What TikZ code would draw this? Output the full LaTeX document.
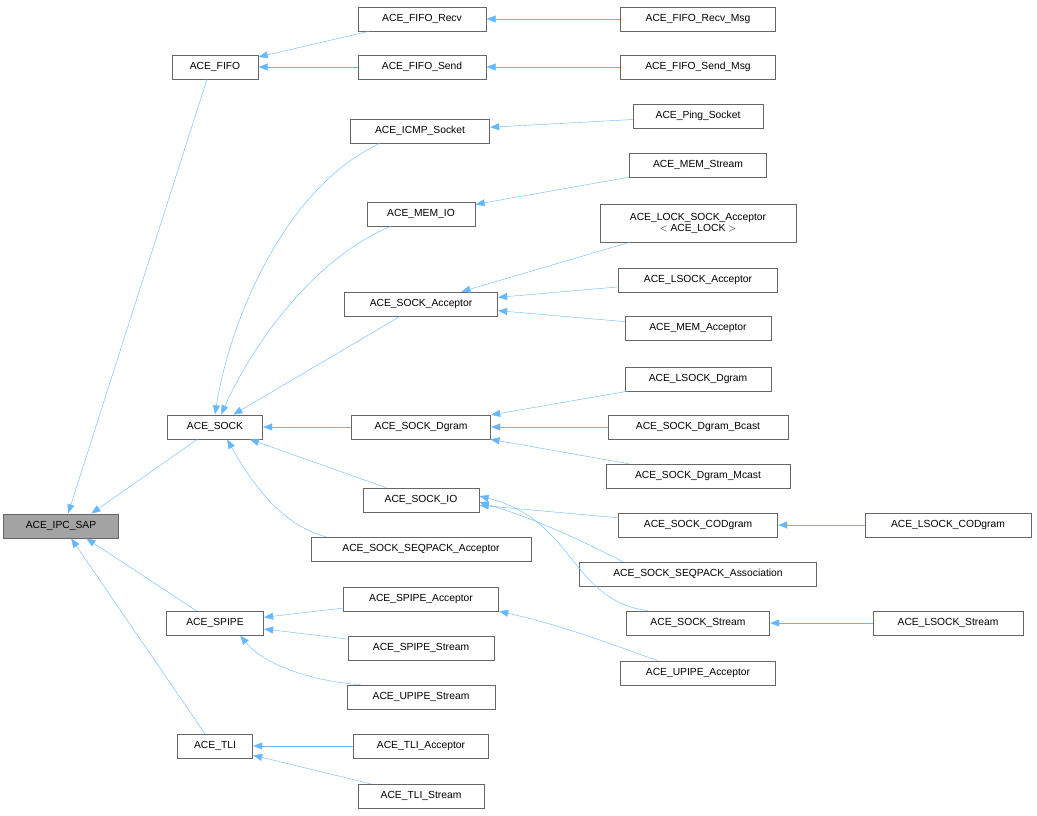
\documentclass[tikz,border=0pt]{standalone}
\usepackage{fontspec}
\setmainfont{Liberation Sans}
\usetikzlibrary{arrows.meta}
\definecolor{ecol}{HTML}{63B8FF}
\definecolor{bcol}{HTML}{666666}
\begin{document}
\begin{tikzpicture}[x=1pt,y=-1pt,
  box/.style={draw=bcol,fill=white,minimum height=24pt,inner sep=0pt,font=\fontsize{10.3}{12}\selectfont,align=center},
  edge/.style={draw=ecol,-{Triangle[length=9pt,width=7pt]},shorten >=0.5pt}]
\useasboundingbox (0,0) rectangle (1037,816);
\node[box,fill=gray!80!black!60,minimum width=115pt] (ipc) at (61,526) {ACE\_IPC\_SAP};
\node[box,minimum width=86pt] (fifo) at (215,67) {ACE\_FIFO};
\node[box,minimum width=128pt] (frecv) at (422,19) {ACE\_FIFO\_Recv};
\node[box,minimum width=155pt] (frecvm) at (698,19) {ACE\_FIFO\_Recv\_Msg};
\node[box,minimum width=128pt] (fsend) at (422,67) {ACE\_FIFO\_Send};
\node[box,minimum width=155pt] (fsendm) at (698,67) {ACE\_FIFO\_Send\_Msg};
\node[box,minimum width=139pt] (icmp) at (420,131) {ACE\_ICMP\_Socket};
\node[box,minimum width=130pt] (ping) at (698,116) {ACE\_Ping\_Socket};
\node[box,minimum width=137pt] (memstream) at (698,165) {ACE\_MEM\_Stream};
\node[box,minimum width=108pt] (memio) at (421,214) {ACE\_MEM\_IO};
\node[box,minimum width=196pt,minimum height=38pt] (lockacc) at (698,223) {ACE\_LOCK\_SOCK\_Acceptor\\[-1pt]$<$ ACE\_LOCK $>$};
\node[box,minimum width=159pt] (lsockacc) at (698,280) {ACE\_LSOCK\_Acceptor};
\node[box,minimum width=153pt] (sockacc) at (421,304) {ACE\_SOCK\_Acceptor};
\node[box,minimum width=146pt] (memacc) at (698,328) {ACE\_MEM\_Acceptor};
\node[box,minimum width=146pt] (lsockdg) at (698,379) {ACE\_LSOCK\_Dgram};
\node[box,minimum width=95pt] (sock) at (215,427) {ACE\_SOCK};
\node[box,minimum width=139pt] (sockdg) at (421,427) {ACE\_SOCK\_Dgram};
\node[box,minimum width=180pt] (bcast) at (698,427) {ACE\_SOCK\_Dgram\_Bcast};
\node[box,minimum width=184pt] (mcast) at (698,476) {ACE\_SOCK\_Dgram\_Mcast};
\node[box,minimum width=116pt] (sockio) at (421,500) {ACE\_SOCK\_IO};
\node[box,minimum width=159pt] (codgram) at (698,525) {ACE\_SOCK\_CODgram};
\node[box,minimum width=166pt] (lcodgram) at (948,525) {ACE\_LSOCK\_CODgram};
\node[box,minimum width=220pt] (seqacc) at (421,549) {ACE\_SOCK\_SEQPACK\_Acceptor};
\node[box,minimum width=237pt] (seqass) at (698,574) {ACE\_SOCK\_SEQPACK\_Association};
\node[box,minimum width=155pt] (spipeacc) at (421,599) {ACE\_SPIPE\_Acceptor};
\node[box,minimum width=97pt] (spipe) at (215,623) {ACE\_SPIPE};
\node[box,minimum width=143pt] (sockstream) at (698,623) {ACE\_SOCK\_Stream};
\node[box,minimum width=150pt] (lsockstream) at (948,623) {ACE\_LSOCK\_Stream};
\node[box,minimum width=146pt] (spipestream) at (421,648) {ACE\_SPIPE\_Stream};
\node[box,minimum width=155pt] (upipeacc) at (698,673) {ACE\_UPIPE\_Acceptor};
\node[box,minimum width=148pt] (upipestream) at (421,697) {ACE\_UPIPE\_Stream};
\node[box,minimum width=75pt] (tli) at (215,746) {ACE\_TLI};
\node[box,minimum width=135pt] (tliacc) at (421,746) {ACE\_TLI\_Acceptor};
\node[box,minimum width=126pt] (tlistream) at (421,796) {ACE\_TLI\_Stream};
% edges
\draw[edge] (fifo.south) ++(-8,0) -- ([xshift=7pt]ipc.north);
\draw[edge] (sock) -- ([xshift=30pt]ipc.north);
\draw[edge] (spipe) -- ([xshift=25pt]ipc.south);
\draw[edge] ([xshift=-10pt]tli.north) -- ([xshift=10pt]ipc.south);
\draw[edge] (frecv) -- (fifo);
\draw[edge] (fsend) -- (fifo);
\draw[edge] (frecvm) -- (frecv);
\draw[edge] (fsendm) -- (fsend);
\draw[edge] (ping) -- (icmp);
\draw[edge] (memstream) -- (memio);
\draw[edge] (lockacc.south west) ++(30,0) -- ([xshift=40pt]sockacc.north);
\draw[edge] (lsockacc) -- (sockacc);
\draw[edge] (memacc) -- (sockacc);
\draw[edge] (lsockdg) -- (sockdg);
\draw[edge] (bcast) -- (sockdg);
\draw[edge] (mcast) -- (sockdg);
\draw[edge] (sockacc) -- ([xshift=18pt]sock.north);
\draw[edge] (sockdg) -- (sock);
\draw[edge] (sockio) -- (sock);
\draw[edge] ([xshift=-40pt]icmp.south) .. controls (280,190) and (228,330) .. ([xshift=0pt]sock.north);
\draw[edge] ([xshift=-30pt]memio.south) .. controls (310,260) and (250,350) .. ([xshift=6pt]sock.north);
\draw[edge] ([xshift=-95pt]seqacc.north) .. controls (280,525) and (250,480) .. ([xshift=12pt]sock.south);
\draw[edge] (codgram) -- (sockio);
\draw[edge] (lcodgram) -- (codgram);
\draw[edge] ([xshift=-75pt]seqass.north) .. controls (590,545) and (540,520) .. ([yshift=-2pt]sockio.east);
\draw[edge] ([xshift=-50pt]sockstream.north) .. controls (570,600) and (575,520) .. ([yshift=4pt]sockio.east);
\draw[edge] (lsockstream) -- (sockstream);
\draw[edge] (spipeacc) -- (spipe);
\draw[edge] (spipestream) -- (spipe);
\draw[edge] ([xshift=-60pt]upipestream.north) .. controls (300,680) and (260,660) .. ([xshift=25pt]spipe.south);
\draw[edge] ([xshift=-40pt]upipeacc.north) .. controls (600,640) and (560,625) .. ([xshift=0pt,yshift=0pt]spipeacc.south east);
\draw[edge] (tliacc) -- (tli);
\draw[edge] (tlistream) -- (tli);
\end{tikzpicture}
\end{document}
